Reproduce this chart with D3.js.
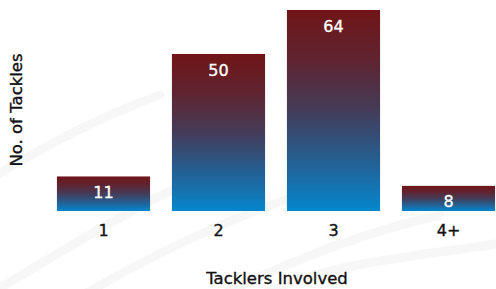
<!DOCTYPE html>
<html>
<head>
<meta charset="utf-8">
<script src="https://cdn.jsdelivr.net/npm/d3@7"></script>
<style>
html,body{margin:0;padding:0;background:#fff;overflow:hidden;}
svg{display:block;}
text{font-family:"DejaVu Sans",sans-serif;}
</style>
</head>
<body>
<svg id="chart" width="496" height="289"></svg>
<script>
const categories = ["1", "2", "3", "4+"];
const tackles = [11, 50, 64, 8];
const xTitle = "Tacklers Involved";
const yTitle = "No. of Tackles";

const svg = d3.select("#chart");
const FONT = "DejaVu Sans, sans-serif";

// faint watermark strokes
const wm = svg.append("g").attr("fill", "none").attr("stroke-linecap", "round");
const wmPaths = [
  "M -20 300 C 80 240, 160 190, 260 150",
  "M 40 320 C 140 260, 230 215, 330 185",
  "M 150 330 C 250 280, 330 240, 440 215",
  "M -30 190 C 40 150, 90 120, 160 95",
  "M 250 300 C 330 260, 400 260, 520 240"
];
wm.selectAll("path").data(wmPaths).join("path")
  .attr("d", d => d)
  .attr("stroke", "#f7f7f7")
  .attr("stroke-width", 9);

const x = d3.scaleBand().domain(categories).range([46, 506])
  .paddingInner(0.19).paddingOuter(0.095);
const y = d3.scaleLinear().domain([0, 64]).range([211, 10]);

const defs = svg.append("defs");
const grad = defs.append("linearGradient").attr("id", "barGrad")
  .attr("x1", 0).attr("y1", 0).attr("x2", 0).attr("y2", 1);
[[0, "#701517"], [0.25, "#5f2430"], [0.5, "#443c59"], [0.72, "#285b8b"], [1, "#0586cd"]]
  .forEach(([o, c]) => grad.append("stop").attr("offset", o).attr("stop-color", c));

const data = categories.map((c, i) => ({c, v: tackles[i]}));

svg.append("g").selectAll("rect").data(data).join("rect")
  .attr("x", d => x(d.c))
  .attr("y", d => y(d.v))
  .attr("width", x.bandwidth())
  .attr("height", d => y(0) - y(d.v))
  .attr("fill", "url(#barGrad)");

function styleText(sel, size, color) {
  sel.attr("font-size", size).attr("fill", color)
    .attr("stroke", color).attr("stroke-width", 0.35)
    .style("font-family", FONT);
}

svg.append("g").selectAll("text").data(data).join("text")
  .attr("x", d => x(d.c) + x.bandwidth() / 2)
  .attr("y", d => y(d.v) + 16)
  .attr("dy", "0.35em")
  .attr("text-anchor", "middle")
  .text(d => d.v)
  .call(styleText, 16, "#fff");

const xAxis = svg.append("g").attr("transform", `translate(0,${y(0)})`)
  .call(d3.axisBottom(x).tickSize(0).tickPadding(14));
xAxis.select(".domain").remove();
xAxis.selectAll("text").call(styleText, 16, "#111");

svg.append("text")
  .attr("x", 277).attr("y", 278).attr("dy", "0.35em")
  .attr("text-anchor", "middle")
  .text(xTitle)
  .call(styleText, 16.5, "#111");

svg.append("text")
  .attr("transform", "translate(16,110) rotate(-90)")
  .attr("dy", "0.35em")
  .attr("text-anchor", "middle")
  .text(yTitle)
  .call(styleText, 16.5, "#111");
</script>
</body>
</html>
